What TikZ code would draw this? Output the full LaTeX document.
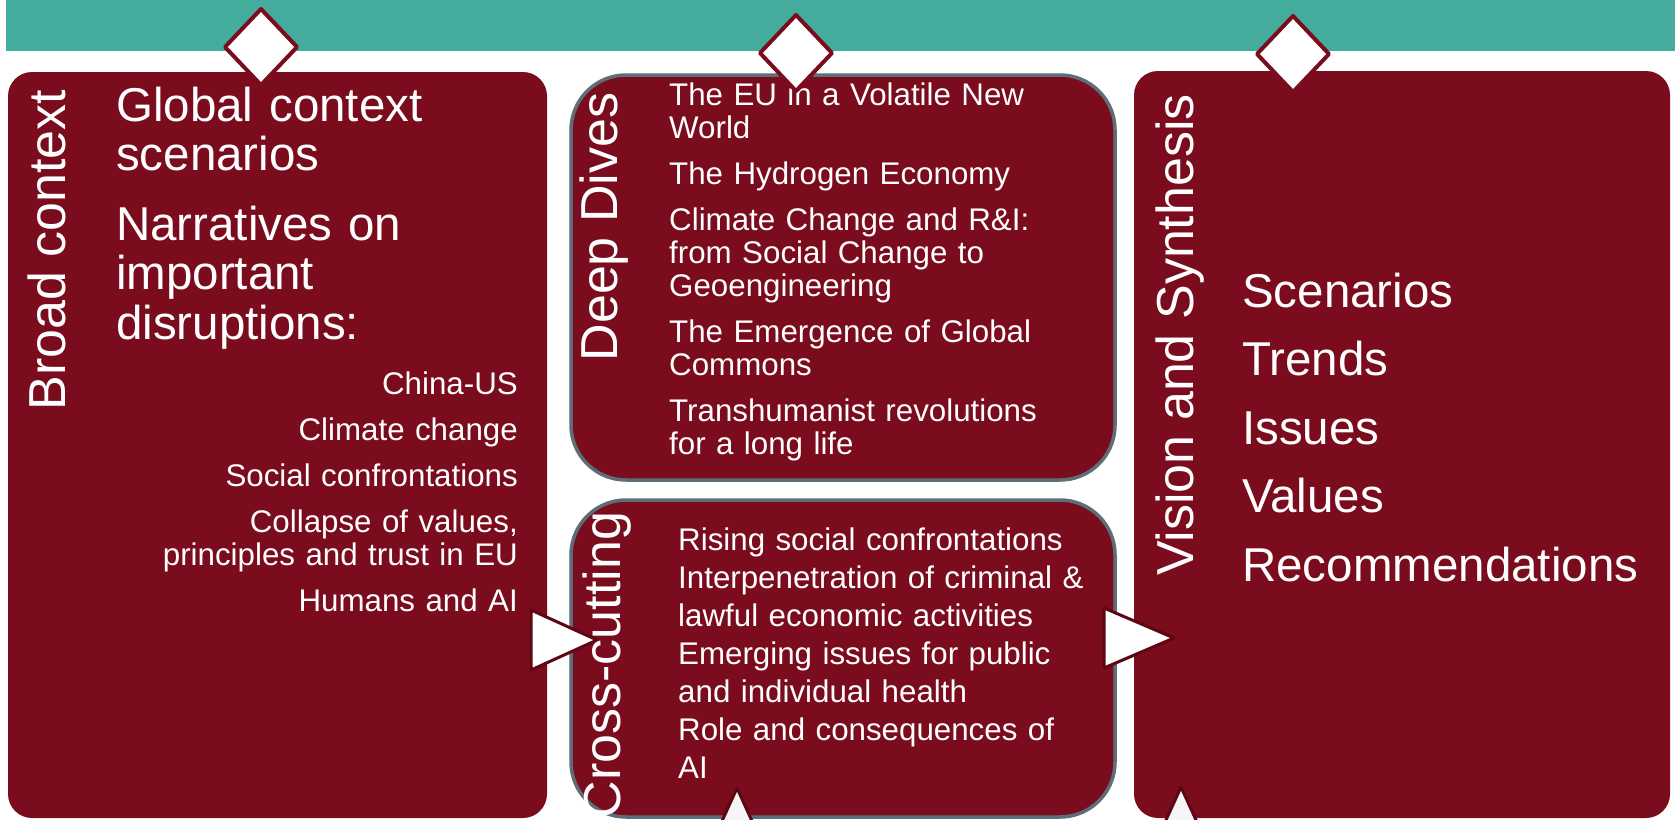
\documentclass[tikz,border=0pt]{standalone}
\usepackage{fontspec}
\setmainfont{Liberation Sans}
\definecolor{band}{HTML}{43AC9C}
\definecolor{wine}{HTML}{7A0C1D}
\definecolor{darkwine}{HTML}{5E0712}
\definecolor{rim}{HTML}{5E6E78}
\tikzset{
  panel/.style={fill=wine, rounded corners=24pt},
  dive/.style={fill=wine, draw=rim, line width=3.5pt, rounded corners=55pt},
  title/.style={text=white, font=\fontsize{52}{52}\selectfont, rotate=90, anchor=base, inner sep=0pt},
  items/.style={text=white, inner sep=0pt, anchor=base west, align=left, text width=440pt},
  marker/.style={fill=white, draw=wine, line width=4pt, line join=round},
  pointer/.style={fill=white, draw=darkwine, line width=3pt, line join=round},
}
\begin{document}
\begin{tikzpicture}[x=1pt,y=-1pt]
        \useasboundingbox (0,0) rectangle (1675,819);
        \clip (0,0) rectangle (1675,819);
        %% top band
        \fill[band] (6,0) rectangle (1675,51);
        %% panels
        \fill[panel] (8,72) rectangle (547,818);
        \draw[dive] (571,75) rectangle (1115,480);
        \draw[dive] (571,500) rectangle (1115,817);
        \fill[panel] (1134,71) rectangle (1670,818);
        %% arrows between panels
        \draw[pointer] (531,610) -- (597,640) -- (531,670) -- cycle;
        \draw[pointer] (1104,608) -- (1174,638) -- (1104,668) -- cycle;
        %% broad context
        \node[title] (broad) at (65,250) {Broad context};
        \node[items, font=\fontsize{47.5}{49.5}\selectfont] (global) at (116,121)
          {Global context\\ scenarios\\[20pt] Narratives on\\ important\\ disruptions:};
        \node[items, anchor=base east, align=right, font=\fontsize{31.3}{33}\selectfont] (disrupt) at (518,394)
          {China-US\\[13pt] Climate change\\[13pt] Social confrontations\\[13pt] Collapse of values,\\ principles and trust in EU\\[13pt] Humans and AI};
        %% deep dives
        \node[title] (deep) at (617,227) {Deep Dives};
        \node[items, font=\fontsize{31.3}{33}\selectfont] (dives) at (669,105)
          {The EU in a Volatile New\\ World\\[13pt] The Hydrogen Economy\\[13pt] Climate Change and R\&I:\\ from Social Change to\\ Geoengineering\\[13pt] The Emergence of Global\\ Commons\\[13pt] Transhumanist revolutions\\ for a long life};
        %% cross-cutting
        \node[title] (cross) at (620,665) {Cross-cutting};
        \node[items, font=\fontsize{31.3}{38}\selectfont] (issues) at (678,550)
          {Rising social confrontations\\ Interpenetration of criminal \&\\ lawful economic activities\\ Emerging issues for public\\ and individual health\\ Role and consequences of\\ AI};
        %% vision and synthesis
        \node[title] (vision) at (1193,335) {Vision and Synthesis};
        \node[items, font=\fontsize{47.5}{68.5}\selectfont] (synth) at (1242,307)
          {Scenarios\\ Trends\\ Issues\\ Values\\ Recommendations};
        %% diamonds on the band
        \foreach \x/\y in {261/47, 796/53, 1293/54}
          \draw[marker] (\x,\y-38) -- (\x+36,\y) -- (\x,\y+38) -- (\x-36,\y) -- cycle;
        %% triangles at the bottom
        \foreach \x/\y in {737/788, 1181/787}
          \draw[pointer, fill=gray!8] (\x,\y) -- (\x+30,\y+66) -- (\x-30,\y+66) -- cycle;
    \end{tikzpicture}
\end{document}
